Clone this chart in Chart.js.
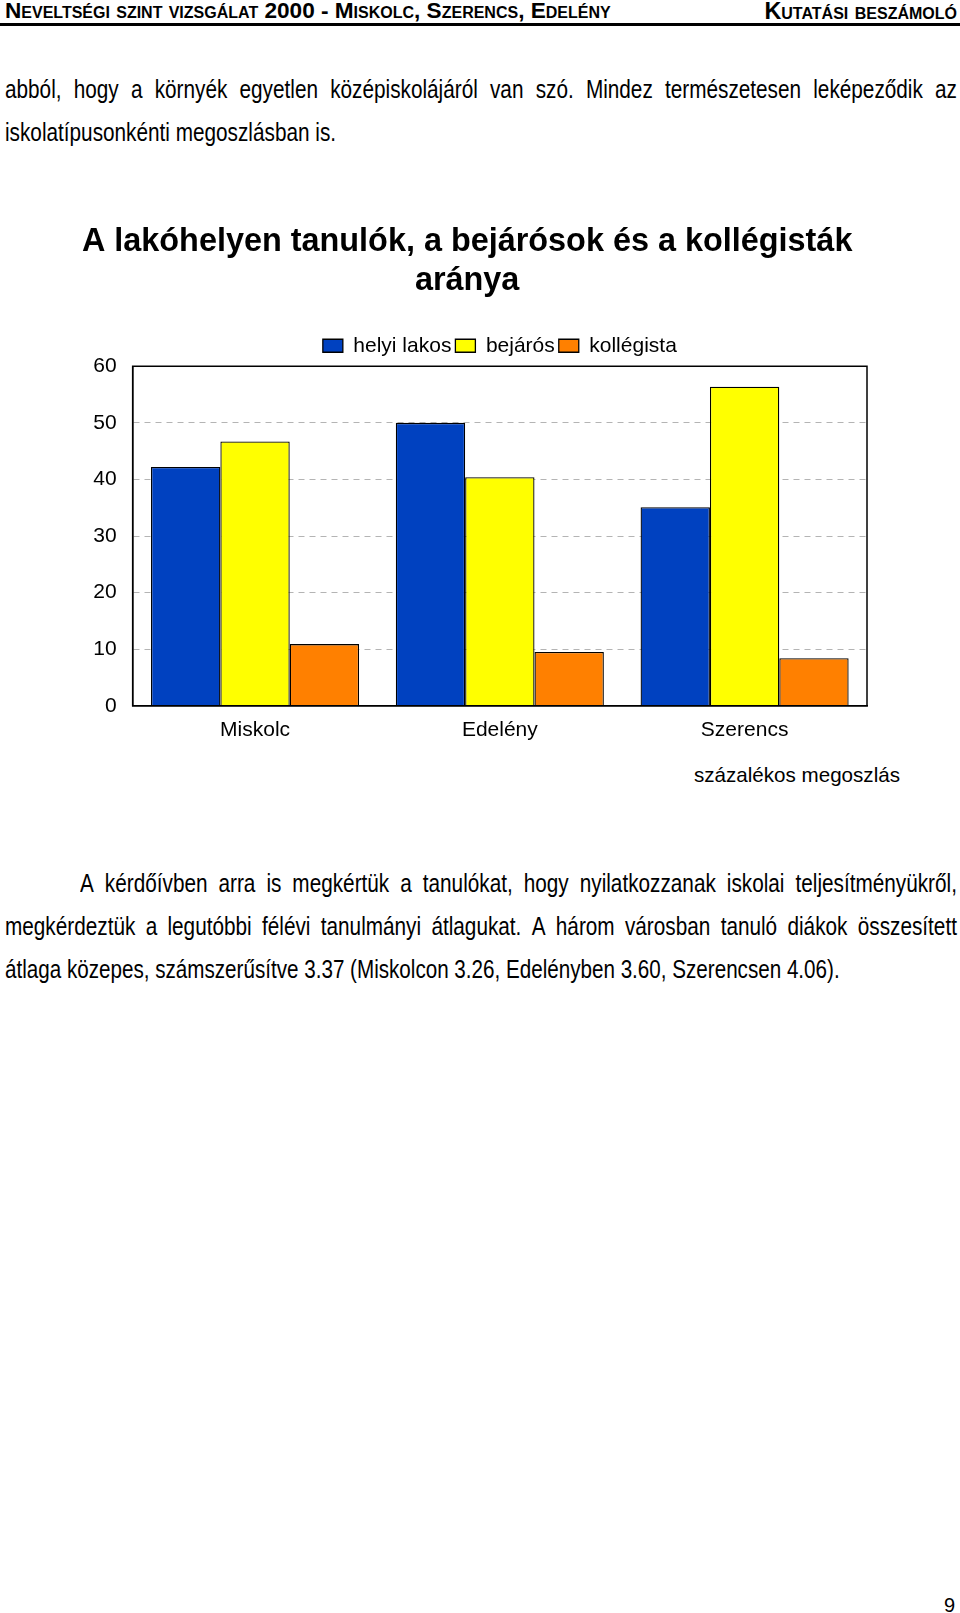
<!DOCTYPE html>
<html>
<head>
<meta charset="utf-8">
<script src="https://cdn.jsdelivr.net/npm/chart.js@4"></script>
<style>
  html, body { margin:0; padding:0; background:#fff; }
  #page { position:relative; width:960px; height:1613px; overflow:hidden; background:#fff; color:#000; font-family:'Liberation Sans',Arial,sans-serif; }
  .hdr { position:absolute; top:-2px; font-weight:bold; font-variant:small-caps; font-size:22.6px; line-height:26px; white-space:nowrap; }
  .rule { position:absolute; left:0; top:23px; width:960px; height:3px; background:#000; }
  .ln { position:absolute; left:5px; font-size:25px; line-height:30px; white-space:nowrap; transform:scaleX(0.83); transform-origin:0 0; }
  .just { display:flex; justify-content:space-between; }
  .abs { position:absolute; }
  #chartbox { position:absolute; left:0; top:200px; width:936px; height:555px; }
</style>
</head>
<body>
<div id="page">
  <div class="hdr" style="left:5px;">Neveltségi szint vizsgálat 2000 - Miskolc, Szerencs, Edelény</div>
  <div class="hdr" style="right:3px; font-size:23.4px;">Kutatási beszámoló</div>
  <div class="rule"></div>

  <div class="ln just" data-w="952" style="top:74px;">abból, hogy a környék egyetlen középiskolájáról van szó. Mindez természetesen leképeződik az</div>
  <div class="ln" style="top:117px;">iskolatípusonkénti megoszlásban is.</div>

  <div id="chartbox"><canvas id="c" width="936" height="555"></canvas></div>
  <div class="abs" style="right:60px; top:763px; font-size:20.6px; line-height:24px;">százalékos megoszlás</div>

  <div class="ln just" data-w="877" style="top:868px; left:80px;">A kérdőívben arra is megkértük a tanulókat, hogy nyilatkozzanak iskolai teljesítményükről,</div>
  <div class="ln just" data-w="952" style="top:911px;">megkérdeztük a legutóbbi félévi tanulmányi átlagukat. A három városban tanuló diákok összesített</div>
  <div class="ln" style="top:954px; transform:scaleX(0.825);">átlaga közepes, számszerűsítve 3.37 (Miskolcon 3.26, Edelényben 3.60, Szerencsen 4.06).</div>

  <div class="abs" style="left:944px; top:1593px; font-size:20px; line-height:24px;">9</div>
</div>
<script>
// justify lines: spread words across the given width
document.querySelectorAll('.just').forEach(el => {
  const words = el.textContent.trim().split(/\s+/);
  el.textContent = '';
  words.forEach(w => { const s = document.createElement('span'); s.textContent = w; el.appendChild(s); });
  el.style.width = (parseFloat(el.dataset.w) / 0.83) + 'px';
});

const categories = ['Miskolc', 'Edelény', 'Szerencs'];
const seriesNames = ['helyi lakos', 'bejárós', 'kollégista'];
const helyiLakos = [42.2, 50.0, 35.1];
const bejaros = [46.7, 40.4, 56.4];
const kollegista = [10.9, 9.5, 8.4];
const yTicks = [0, 10, 20, 30, 40, 50, 60];
const titleLines = ['A lakóhelyen tanulók, a bejárósok és a kollégisták', 'aránya'];

const frame = {
  id: 'frame',
  afterDatasetsDraw(chart) {
    const a = chart.chartArea, ctx = chart.ctx;
    ctx.save();
    ctx.strokeStyle = '#000';
    ctx.lineWidth = 1.5;
    ctx.strokeRect(a.left, a.top, a.right - a.left, a.bottom - a.top);
    ctx.restore();
  }
};

const colors = ['#0041C0', '#FFFF00', '#FF8000'];
const values = [helyiLakos, bejaros, kollegista];

new Chart(document.getElementById('c'), {
  type: 'bar',
  data: {
    labels: categories,
    datasets: seriesNames.map((n, i) => ({
      label: n,
      data: values[i],
      backgroundColor: colors[i],
      borderColor: '#000',
      borderWidth: 1.3,
      categoryPercentage: 0.85,
      barPercentage: 1.0
    }))
  },
  options: {
    responsive: false,
    animation: false,
    devicePixelRatio: 1,
    layout: { padding: { left: 67.3, right: 69, top: 0, bottom: 0 } },
    plugins: {
      title: {
        display: true,
        text: titleLines,
        color: '#000',
        font: { family: 'Liberation Sans', size: 32.4, weight: 'bold', lineHeight: 1.2 },
        padding: { top: 22.5, bottom: 31 }
      },
      legend: {
        position: 'top',
        fullSize: false,
        labels: {
          color: '#000',
          font: { family: 'Liberation Sans', size: 21 },
          boxWidth: 20,
          boxHeight: 13,
          padding: 4
        }
      },
      tooltip: { enabled: false }
    },
    scales: {
      x: {
        grid: { display: false, drawTicks: false },
        border: { display: true, color: '#000', width: 1.5 },
        ticks: { color: '#000', font: { family: 'Liberation Sans', size: 21 }, padding: 12 }
      },
      y: {
        min: 0, max: 60,
        afterBuildTicks(axis) { axis.ticks = yTicks.map(v => ({ value: v })); },
        title: { display: true, text: '', font: { size: 10, lineHeight: 1 }, padding: 0 },
        grid: {
          drawTicks: false,
          color: ctx => (ctx.tick && (ctx.tick.value === 0 || ctx.tick.value === 60)) ? 'rgba(0,0,0,0)' : '#B4B4B4',
          lineWidth: 1
        },
        border: { display: true, color: '#000', width: 1.5, dash: [6, 5] },
        ticks: { color: '#000', font: { family: 'Liberation Sans', size: 21 }, padding: 16 }
      }
    }
  },
  plugins: [frame]
});
</script>
</body>
</html>
